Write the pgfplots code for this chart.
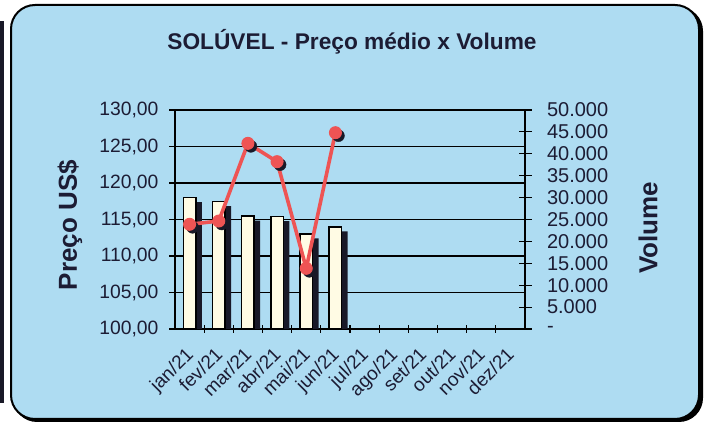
\documentclass[border=0pt]{standalone}
\usepackage{pgfplots}
\pgfplotsset{compat=1.18}
\usepackage{fontspec}
\setmainfont{Liberation Sans}
\definecolor{bg}{RGB}{174,220,242}
\definecolor{txt}{RGB}{28,28,52}
\definecolor{lred}{RGB}{238,84,84}
\definecolor{cream}{RGB}{255,251,228}
\definecolor{shad}{RGB}{25,25,40}
\pgfplotsset{
  common/.style={
    at={(175pt,94pt)}, anchor=south west,
    width=350pt, height=219pt, scale only axis,
    xmin=-0.5, xmax=11.5,
  }
}
\begin{document}
\begin{tikzpicture}[x=1pt,y=1pt]
\fill[white] (0,0) rectangle (707,423);
\fill[shad] (0,20) rectangle (4,402);
\fill[black,rounded corners=24pt] (13,1) rectangle (703,416);
\filldraw[fill=bg,draw=black,line width=2pt,rounded corners=24pt] (11,4) rectangle (699,418);

\node[font=\bfseries\fontsize{22.7}{26}\selectfont, text=txt] at (352,381) {SOLÚVEL - Preço médio x Volume};
\node[font=\bfseries\fontsize{26}{30}\selectfont, text=txt, rotate=90] at (70,198) {Preço US\$};
\node[font=\bfseries\fontsize{26}{30}\selectfont, text=txt, rotate=90] at (648,195) {Volume};

% price axis: grid and left ticks
\begin{axis}[
  common,
  ymin=100, ymax=130,
  axis y line*=left, axis x line=none,
  axis line style={black, line width=1.3pt},
  xtick=\empty,
  ytick={100,105,...,130},
  yticklabels={{100,00},{105,00},{110,00},{115,00},{120,00},{125,00},{130,00}},
  ymajorgrids,
  major grid style={black, line width=1.3pt},
  tick align=outside,
  major tick length=6pt,
  tick style={black, line width=1.1pt},
  yticklabel style={font=\fontsize{19.3}{22}\selectfont, text=txt, xshift=-7pt},
]
\end{axis}

% volume axis (bars, right)
\begin{axis}[
  common,
  ymin=0, ymax=50000,
  axis x line*=bottom, axis y line*=right,
  axis line style={black, line width=1.3pt},
  xtick={0,...,11},
  xticklabels={jan/21,fev/21,mar/21,abr/21,mai/21,jun/21,jul/21,ago/21,set/21,out/21,nov/21,dez/21},
  minor xtick={0.5,1.5,...,10.5},
  major x tick style={draw=none},
  minor tick length=8pt,
  major tick length=13pt,
  tick align=center,
  tick style={black, line width=1.1pt},
  xticklabel style={xshift=-5pt, yshift=-9pt, rotate=45, anchor=north east, inner sep=1pt, font=\fontsize{19}{22}\selectfont, text=txt},
  ytick={0,5000,...,50000},
  yticklabels={-,5.000,10.000,15.000,20.000,25.000,30.000,35.000,40.000,45.000,50.000},
  yticklabel style={font=\fontsize{20}{22}\selectfont, text=txt, xshift=12pt},
  scaled y ticks=false,
]
\addplot[ybar, bar width=12.5pt, bar shift=6pt, fill=shad, draw=none] table {
x y
0 28970
1 28070
2 24770
3 24620
4 20670
5 22270
};
\addplot[ybar, bar width=12.5pt, bar shift=0pt, fill=cream, draw=black, line width=1.6pt] table {
x y
0 30000
1 29100
2 25800
3 25650
4 21700
5 23300
};
\end{axis}

% price line
\begin{axis}[
  common,
  ymin=100, ymax=130,
  hide axis,
]
\addplot[only marks, mark=*, mark size=6pt, shad, mark options={xshift=3pt, yshift=-3pt}] table {
x y
0 114.34
1 114.79
2 125.43
3 122.92
4 108.31
5 126.89
};
\addplot[lred, line width=3.6pt, mark=*, mark size=6pt, mark options={fill=lred, draw=lred, line width=1pt}] table {
x y
0 114.34
1 114.79
2 125.43
3 122.92
4 108.31
5 126.89
};
\end{axis}
\end{tikzpicture}
\end{document}
